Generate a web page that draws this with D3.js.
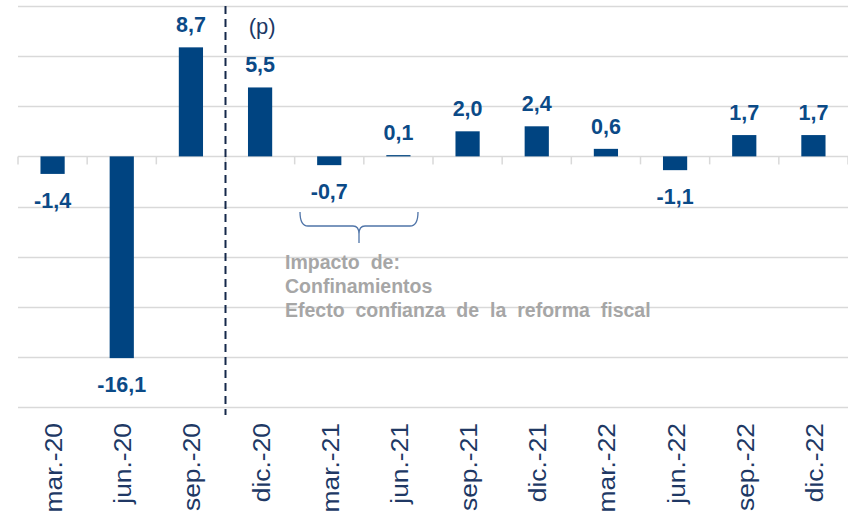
<!DOCTYPE html>
<html><head><meta charset="utf-8">
<script src="https://cdn.jsdelivr.net/npm/d3@7"></script>
<style>body{margin:0;background:#fff}svg{display:block}</style>
</head><body>
<svg id="c" width="848" height="516"></svg>
<script>
const categories = ["mar.-20","jun.-20","sep.-20","dic.-20","mar.-21","jun.-21","sep.-21","dic.-21","mar.-22","jun.-22","sep.-22","dic.-22"];
const values = [-1.4,-16.1,8.7,5.5,-0.7,0.1,2.0,2.4,0.6,-1.1,1.7,1.7];
const gridTicks = [12,8,4,0,-4,-8,-12,-16,-20];
const noteLines = ["Impacto de:","Confinamientos","Efecto confianza de la reforma fiscal"];
const projLabel = "(p)";

const FONT = "'Liberation Sans', Arial, sans-serif";
const svg = d3.select("#c");
const x = d3.scaleBand().domain(categories).range([18, 848]).paddingInner(0.65).paddingOuter(0.325);
const y = d3.scaleLinear().domain([-20, 12]).range([407, 6]);
const fmt = v => d3.format(".1f")(v).replace(".", ",").replace("−","-");

// gridlines
svg.append("g").selectAll("line").data(gridTicks).join("line")
  .attr("x1", 18).attr("x2", 848)
  .attr("y1", d => Math.round(y(d)) + 0.5).attr("y2", d => Math.round(y(d)) + 0.5)
  .attr("stroke", "#d9d9d9").attr("stroke-width", 1.5);

// bars
svg.append("g").selectAll("rect").data(values).join("rect")
  .attr("x", (d,i) => x(categories[i]))
  .attr("width", x.bandwidth())
  .attr("y", d => y(Math.max(0,d)))
  .attr("height", d => Math.abs(y(d) - y(0)))
  .attr("fill", "#004481");

// tick marks at category boundaries
const bounds = d3.range(categories.length + 1).map(i => 18 + i * x.step());
svg.append("g").selectAll("line").data(bounds).join("line")
  .attr("x1", d => d).attr("x2", d => d)
  .attr("y1", y(0)).attr("y2", y(0) + 8)
  .attr("stroke", "#d9d9d9").attr("stroke-width", 1.5);

// value labels
svg.append("g").selectAll("text").data(values).join("text")
  .attr("x", (d,i) => x(categories[i]) + x.bandwidth()/2)
  .attr("y", d => d >= 0 ? y(d) - 15 : y(d) + 34)
  .attr("text-anchor", "middle")
  .attr("font-family", FONT)
  .attr("font-weight", "bold").attr("font-size", 21.5)
  .attr("fill", "#0b4a87")
  .text(d => fmt(d));

// category labels (rotated)
svg.append("g").selectAll("text").data(categories).join("text")
  .attr("transform", d => `translate(${x(d) + x.bandwidth()/2 + 9.5},423) rotate(-90) scale(1.1,1)`)
  .attr("text-anchor", "end")
  .attr("font-family", FONT)
  .attr("font-size", 24)
  .attr("fill", "#203864")
  .text(d => d);

// dashed divider
const divX = (x("sep.-20") + x.bandwidth() + x("dic.-20")) / 2;
svg.append("line").attr("x1", divX).attr("x2", divX).attr("y1", 6).attr("y2", 415)
  .attr("stroke", "#15284a").attr("stroke-width", 2).attr("stroke-dasharray", "8,5");

// (p)
svg.append("text").attr("x", x("dic.-20") + x.bandwidth()/2 + 2).attr("y", 34)
  .attr("text-anchor","middle")
  .attr("font-family", FONT).attr("font-size", 22)
  .attr("fill", "#203864").text(projLabel);

// brace
const bx1 = 300, bx2 = 418, bm = (bx1 + bx2)/2, by = 226;
svg.append("path")
  .attr("d", `M${bx1},212 Q${bx1},${by} ${bx1+8},${by} L${bm-6},${by} Q${bm},${by} ${bm},${by+8} L${bm},243 M${bm},${by+8} Q${bm},${by} ${bm+6},${by} L${bx2-8},${by} Q${bx2},${by} ${bx2},212`)
  .attr("fill","none").attr("stroke","#4f74a8").attr("stroke-width",1.3);

// note
svg.append("g").selectAll("text").data(noteLines).join("text")
  .attr("x", 285).attr("y", (d,i) => 269 + i*24)
  .attr("font-family", FONT)
  .attr("font-weight","bold").attr("font-size", 19.5)
  .attr("word-spacing", 5.5)
  .attr("fill", "#a6a6a6")
  .text(d => d);
</script>
</body></html>
